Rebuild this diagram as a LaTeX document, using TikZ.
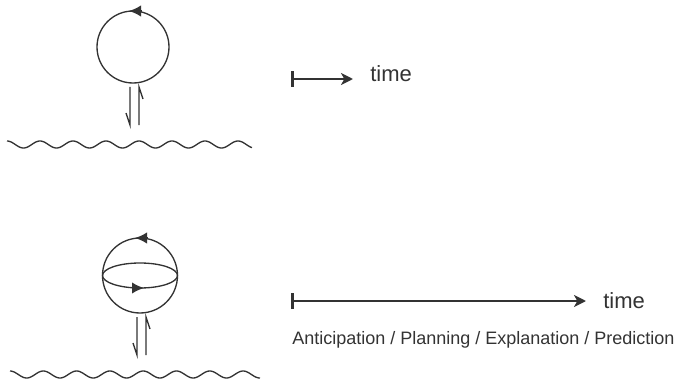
\documentclass[tikz,border=0pt]{standalone}
\usepackage{fontspec}
\setmainfont{Liberation Sans}
\usetikzlibrary{arrows.meta}
\definecolor{inkgray}{HTML}{333333}
\begin{document}
\begin{tikzpicture}[x=0.75pt,y=-0.75pt,
  ink/.style={draw=inkgray, line width=1pt},
  dirtip/.style={ink, -{Latex[length=9pt,width=8.5pt]}},
  timeline/.style={draw=inkgray, line width=1.7pt,
    {Bar[width=12pt,line width=2pt]}-{Stealth[length=9pt,width=9pt,inset=2.5pt]}},
  timelabel/.style={anchor=base west, inner sep=0pt, text=inkgray, font=\fontsize{16.5}{18}\selectfont},
  caption/.style={anchor=base west, inner sep=0pt, text=inkgray, font=\fontsize{13.5}{16}\selectfont}
]
\useasboundingbox (0,0) rectangle (678,385);

% ---- upper panel: a single loop over a wavy world ----
\coordinate (loop) at (133,47);
\draw[ink] (loop) circle[radius=36];
\draw[dirtip] ([shift={(9,-36)}]loop) -- ([shift={(-4,-36)}]loop);

% coupling: down and up harpoons
\draw[ink] (130,87) -- (130,125) -- (126,113);
\draw[ink] (139,125) -- (139,87) -- (143,99);

% wavy ground
\draw[ink] plot[domain=7:252, samples=240, smooth] (\x, {144.5-3.5*cos(((\x-7)/33)*360)});

% short time arrow
\coordinate (ta) at (291,79);
\coordinate (tb) at (353,79);
\draw[timeline] (ta) -- (tb);
\node[timelabel] (tlabA) at (370,82) {time};

% ---- lower panel: a sphere with an equatorial loop ----
\coordinate (sph) at (140,275.5);
\draw[ink] (sph) circle[radius=37.5];
\draw[ink] (sph) ellipse[x radius=37.5, y radius=12.5];
\draw[dirtip] ([shift={(8,-37.5)}]sph) -- ([shift={(-5,-37.5)}]sph);
\draw[dirtip] ([shift={(-8,12.5)}]sph) -- ([shift={(4,12.5)}]sph);

% coupling: down and up harpoons
\draw[ink] (137,317) -- (137,355) -- (133,343);
\draw[ink] (146,355) -- (146,317) -- (150,329);

% wavy ground
\draw[ink] plot[domain=10:260, samples=240, smooth] (\x, {374.5-3.5*cos(((\x-10)/33.3)*360)});

% long time arrow
\coordinate (tc) at (291,301);
\coordinate (td) at (586,301);
\draw[timeline] (tc) -- (td);
\node[timelabel] (tlabB) at (603,308) {time};
\node[caption] (cap) at (292,344) {Anticipation / Planning / Explanation / Prediction};
\end{tikzpicture}
\end{document}
